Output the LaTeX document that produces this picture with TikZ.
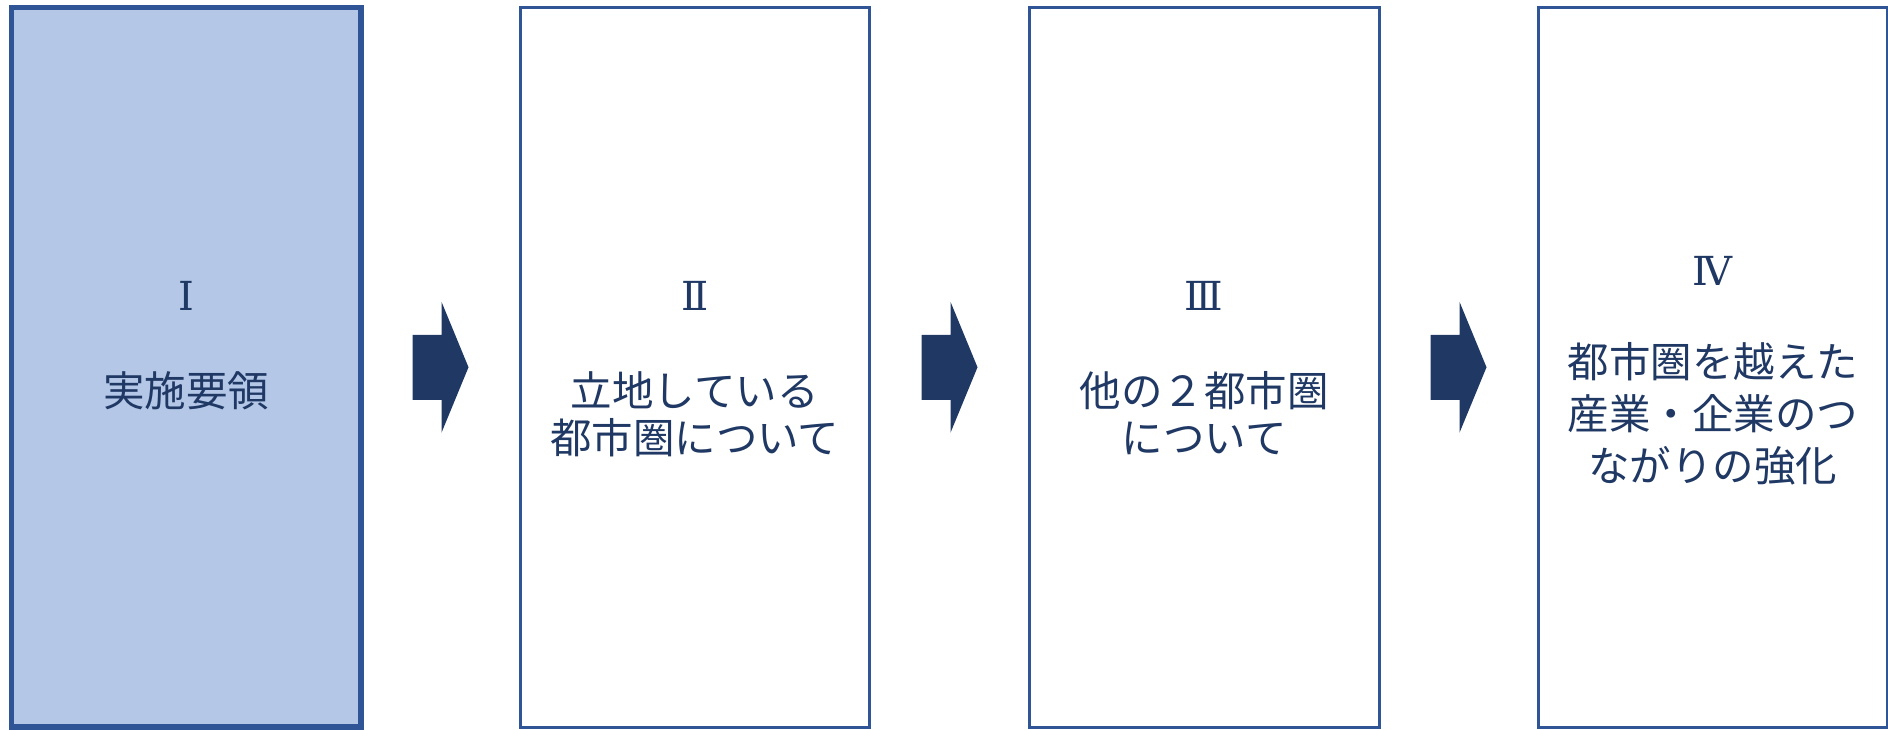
\documentclass[tikz,border=0pt]{standalone}
\usepackage{fontspec}
\newfontfamily\jp{Noto Sans CJK JP}
\newfontfamily\numfont{DejaVu Serif}
\definecolor{boxline}{HTML}{2F5597}
\definecolor{boxfill}{HTML}{B4C7E7}
\definecolor{navy}{HTML}{1F3864}
\usetikzlibrary{calc}
\begin{document}
\begin{tikzpicture}[x=1pt,y=-1pt,
  stagebox/.style={draw=boxline,line width=3pt,minimum width=349.5pt,minimum height=719.5pt,inner sep=0pt,outer sep=0pt,anchor=north west},
  txt/.style={font=\jp\fontsize{41.5}{41.5}\selectfont,text=navy,anchor=base,inner sep=0pt},
  numtxt/.style={font=\numfont\fontsize{40}{40}\selectfont,text=navy,anchor=base,inner sep=0pt},
  blockarrow/.style={fill=navy}]
\useasboundingbox (0,0) rectangle (1888,730);
\node[stagebox,fill=boxfill,line width=5.5pt] (b1) at (11.5,7.5) {};
\node[stagebox] (b2) at (520,7.5) {};
\node[stagebox] (b3) at (1029.5,7.5) {};
\node[stagebox] (b4) at (1538,7.5) {};
% arrows
\foreach \a/\b/\n in {b1/b2/m1,b2/b3/m2,b3/b4/m3}{
  \coordinate (\n) at ($(\a.east)!0.5!(\b.west)$);
  \fill[blockarrow] ($(\n)+(-28,-32.5)$) -- ($(\n)+(1,-32.5)$) -- ($(\n)+(1,-65.5)$)
    -- ($(\n)+(28,0)$) -- ($(\n)+(1,65.5)$) -- ($(\n)+(1,32.5)$) -- ($(\n)+(-28,32.5)$) -- cycle;
}
% texts
\node[numtxt] (n1) at (186,310) {Ⅰ};
\node[txt] (t1) at (186,406) {実施要領};
\node[numtxt] (n2) at (694.75,310.5) {Ⅱ};
\node[txt] (t2a) at (694.75,406) {立地している};
\node[txt] (t2b) at (694.75,453) {都市圏について};
\node[numtxt] (n3) at (1204.25,310.5) {Ⅲ};
\node[txt] (t3a) at (1204.25,406) {他の２都市圏};
\node[txt] (t3b) at (1204.25,453) {について};
\node[numtxt] (n4) at (1712.75,285) {Ⅳ};
\node[txt] (t4a) at (1712.75,377) {都市圏を越えた};
\node[txt] (t4b) at (1712.75,429) {産業・企業のつ};
\node[txt] (t4c) at (1712.75,481) {ながりの強化};
\end{tikzpicture}
\end{document}
